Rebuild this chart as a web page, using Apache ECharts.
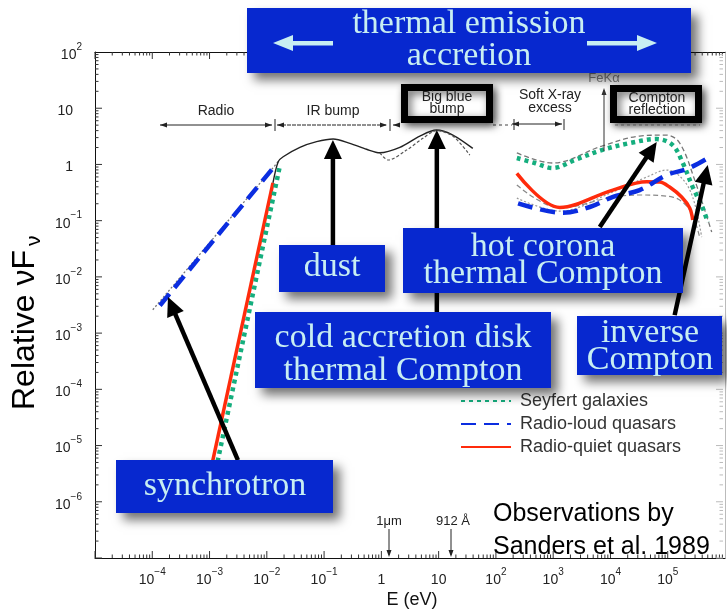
<!DOCTYPE html>
<html><head><meta charset="utf-8">
<script src="https://cdn.jsdelivr.net/npm/echarts@6/dist/echarts.min.js"></script>
<style>html,body{margin:0;padding:0;background:#fff}#c{width:727px;height:611px}</style>
</head><body><div id="c"></div>
<script>
// ---------------- data (E in eV, relative nuF_nu) ----------------
const xTickLabels = [1e-4,1e-3,1e-2,1e-1,1,10,1e2,1e3,1e4,1e5];
const yTickLabels = [1e2,10,1,1e-1,1e-2,1e-3,1e-4,1e-5,1e-6];

const sharedIR = [[0.0128,0.47],[0.0158,1.12],[0.0193,1.37],[0.0378,2.01],[0.074,2.54],[0.144,2.83],[0.282,2.37],[0.552,1.86],[0.94,1.61],[2.1,2.01],[4.7,3.2],[9.2,4.09],[17.7,3.33],[39.5,1.93]];
const sharedIRLower = [[0.94,1.61],[1.315,1.2],[2.75,1.8],[5.3,2.91],[9.2,4.0],[17.7,3.2],[35,1.47]];
const loudRadioGrey = [[1.02e-4,2.6e-3],[0.0158,1.12]];

const seyfertLow = [[1.13e-3,1.97e-6],[0.0169,0.94]];
const quietLow = [[9.2e-4,1.97e-6],[0.0128,0.47]];
const loudLow = [[1.36e-4,3.1e-3],[0.0128,0.86]];

const seyfertX = [[232,1.30],[477,1.06],[984,0.863],[2380,1.20],[7050,1.80],[21700,2.40],[64300,2.83],[122000,2.21],[183000,1.06],[273000,0.396],[408000,0.168],[499000,0.0944]];
const quietX = [[232,0.695],[1300,0.172],[11000,0.35],[43000,0.492],[72500,0.486],[108000,0.396],[175000,0.263],[242000,0.168],[273000,0.103]];
const loudX = [[244,0.203],[1490,0.138],[4350,0.175],[11100,0.266],[32400,0.35],[94900,0.647],[232000,0.853],[578000,1.41]];

const greySeyX = [[232,1.60],[984,1.06],[7050,2.12],[32400,3.2],[95500,3.33],[162000,2.40],[296000,0.528],[586000,0.0627]];
const greyLoudX = [[232,0.252],[1300,0.148],[11000,0.323],[43000,0.597],[95500,0.794],[175000,0.573],[273000,0.263],[392000,0.051]];
const greyQuietX = [[232,0.43],[1300,0.168],[11000,0.263],[32400,0.286],[122000,0.263],[242000,0.155],[361000,0.051]];

// annotation arrows: [tail, tip] in data coordinates
const arrowsData = [
  [[3.13e-3,5.5e-6],[1.88e-4,4.37e-3]],
  [[0.1426,0.0368],[0.1426,2.72]],
  [[9.3,2.37e-3],[9.3,4.09]],
  [[6500,0.0769],[64300,2.5]],
  [[132000,2.09e-3],[499000,0.975]]
];

// ---------------- chart ----------------
const GREEN='#15ae7e', BLUE='#0b2de0', RED='#ff2b0c';
const SANS='"Liberation Sans", Arial, sans-serif';
const SERIF='"Liberation Serif", "Times New Roman", serif';

const MINUS='\u2212';
function xFmt(v){ const e=Math.round(Math.log10(v)); if(e===0) return '{b|1}'; if(e===1) return '{b|10}'; return '{b|10}{s|'+(e<0?MINUS+(-e):e)+'}'; }
function yFmt(v){ const e=Math.round(Math.log10(v)); if(e===0) return '{b|1}{sp| }'; if(e===1) return '{b|10}{sp| }'; return '{b|10}{s|'+(e<0?MINUS+(-e):e)+'}'; }
const rich = {
  b:{fontSize:14, fontFamily:SANS, color:'#222', lineHeight:20, verticalAlign:'bottom'},
  s:{fontSize:10, fontFamily:SANS, color:'#222', lineHeight:12, verticalAlign:'top'},
  sp:{width:9, fontSize:10}
};

function xAx(pos, showLabel){
  return {type:'log', logBase:10, min:1e-5, max:1e6, position:pos,
    axisLine:{show:true, lineStyle:{color:'#111', width:1}},
    axisTick:{show:false},
    axisLabel:{show:showLabel, customValues:xTickLabels, formatter:xFmt, rich:rich, margin:9},
    splitLine:{show:false}, minorTick:{show:false}};
}
function yAx(pos, showLabel, col){
  return {type:'log', logBase:10, min:1e-7, max:1e2, position:pos,
    axisLine:{show:true, lineStyle:{color:col, width:1}},
    axisTick:{show:false},
    axisLabel:{show:showLabel, customValues:yTickLabels, formatter:yFmt, rich:rich, margin:13},
    splitLine:{show:false}, minorTick:{show:false}};
}

function lineSeries(name, data, color, width, type, smooth, z){
  return {type:'line', name:name, data:data, xAxisIndex:0, yAxisIndex:0, symbol:'none', showSymbol:false,
    smooth:smooth, lineStyle:{color:color, width:width, type:type, cap:'butt'}, itemStyle:{color:color}, z:z||2, silent:true};
}

const chart = echarts.init(document.getElementById('c'), null, {renderer:'canvas'});
chart.setOption({
  animation:false,
  grid:{left:95, right:2, top:52, bottom:53, containLabel:false, outerBoundsMode:'none'},
  xAxis:[xAx('bottom',true), xAx('top',false)],
  yAxis:[yAx('left',true,'#111'), yAx('right',false,'#bbb')],
  legend:{orient:'vertical', left:455, top:387, itemWidth:50, itemHeight:14, itemGap:5,
    data:['Seyfert galaxies','Radio-loud quasars','Radio-quiet quasars'],
    itemStyle:{opacity:0},
    textStyle:{fontSize:18, fontFamily:SANS, color:'#333', padding:[0,0,0,4]}, selectedMode:false},
  series:[
    lineSeries('g1', loudRadioGrey, '#777', 1.3, [2,2], false),
    lineSeries('g2', sharedIR, '#222', 1.4, 'solid', 0.3),
    lineSeries('g3', sharedIRLower, '#555', 1.2, [3,2], 0.3),
    lineSeries('g4', greySeyX, '#777', 1.3, [5,3], 0.35),
    lineSeries('g5', greyLoudX, '#999', 1.2, [2,2], 0.35),
    lineSeries('g6', greyQuietX, '#888', 1.2, [5,3], 0.35),
    lineSeries('Radio-quiet quasars', quietLow, RED, 3.5, 'solid', false, 3),
    lineSeries('Radio-quiet quasars', quietX, RED, 3.5, 'solid', 0.35, 3),
    lineSeries('Seyfert galaxies', seyfertLow, GREEN, 4.5, [4,4], false, 3),
    lineSeries('Seyfert galaxies', seyfertX, GREEN, 4.5, [4,4], 0.35, 3),
    lineSeries('Radio-loud quasars', loudLow, BLUE, 4.5, [15,8], false, 3),
    lineSeries('Radio-loud quasars', loudX, BLUE, 4.5, [15,8], 0.35, 3)
  ]
});

// ---------------- annotations ----------------
const G = [];
function arrow(p0, p1, w, headL, headW, color, z){
  const dx=p1[0]-p0[0], dy=p1[1]-p0[1], L=Math.hypot(dx,dy), ux=dx/L, uy=dy/L;
  const bx=p1[0]-ux*headL, by=p1[1]-uy*headL, nx=-uy, ny=ux;
  G.push({type:'line', silent:true, z:z, shape:{x1:p0[0],y1:p0[1],x2:bx+ux,y2:by+uy}, style:{stroke:color,lineWidth:w}});
  G.push({type:'polygon', silent:true, z:z, shape:{points:[[p1[0],p1[1]],[bx+nx*headW/2,by+ny*headW/2],[bx-nx*headW/2,by-ny*headW/2]]}, style:{fill:color}});
}
function txt(x,y,t,font,fill,align,z,va){
  G.push({type:'text', silent:true, z:z||101, x:x, y:y, style:{text:t, font:font, fill:fill, align:align||'center', verticalAlign:va||'middle', textAlign:align||'center', textVerticalAlign:va||'middle'}});
}
function blueBox(x,y,w,h,lines){
  G.push({type:'rect', silent:true, z:100, shape:{x:x,y:y,width:w,height:h},
    style:{fill:'#0728cf', shadowBlur:10, shadowOffsetX:7, shadowOffsetY:7, shadowColor:'rgba(0,0,0,0.55)'}});
  lines.forEach(l=>txt(l[0],l[1],l[2],'34px '+SERIF,'#c8eef2','center',101));
}
function blackBox(x,y,w,h){
  G.push({type:'rect', silent:true, z:60, shape:{x:x,y:y,width:w,height:h},
    style:{fill:'#fff', stroke:'#000', lineWidth:7, shadowBlur:8, shadowOffsetX:3, shadowOffsetY:3, shadowColor:'rgba(0,0,0,0.6)'}});
}
function thin(x1,y1,x2,y2,col,dash,z){
  G.push({type:'line', silent:true, z:z||55, shape:{x1:x1,y1:y1,x2:x2,y2:y2}, style:{stroke:col||'#222', lineWidth:1, lineDash:dash||null}});
}
function head(x,y,dir,col){ // small arrowhead
  const c=col||'#222'; let pts;
  if(dir==='l') pts=[[x,y],[x+7,y-2.5],[x+7,y+2.5]];
  if(dir==='r') pts=[[x,y],[x-7,y-2.5],[x-7,y+2.5]];
  if(dir==='u') pts=[[x,y],[x-2.5,y+7],[x+2.5,y+7]];
  if(dir==='d') pts=[[x,y],[x-2.5,y-7],[x+2.5,y-7]];
  G.push({type:'polygon', silent:true, z:56, shape:{points:pts}, style:{fill:c}});
}

// axis ticks (log minor + major) on all four sides
const rect = {x0:95, x1:725, y0:52, y1:558};
for (let e=-5; e<6; e++) for (let k=1; k<=9; k++) {
  const v = k*Math.pow(10,e);
  const px = chart.convertToPixel({xAxisIndex:0}, v);
  const L = k===1 ? 7 : 3.5;
  thin(px, rect.y1, px, rect.y1-L, '#333', null, 5);
  thin(px, rect.y0, px, rect.y0+L, '#333', null, 5);
}
for (let e=-7; e<2; e++) for (let k=1; k<=9; k++) {
  const v = k*Math.pow(10,e);
  const py = chart.convertToPixel({yAxisIndex:0}, v);
  const L = k===1 ? 7 : 3.5;
  thin(rect.x0, py, rect.x0+L, py, '#333', null, 5);
  thin(rect.x1-2, py, rect.x1-2-L, py, '#bbb', null, 5);
}

// big black arrows from data coordinates
arrowsData.forEach(a=>{
  const p0 = chart.convertToPixel({xAxisIndex:0,yAxisIndex:0}, a[0]);
  const p1 = chart.convertToPixel({xAxisIndex:0,yAxisIndex:0}, a[1]);
  arrow(p0,p1,4.5,19,18,'#000',50);
});

// band annotations along the top
const f14 = '14px '+SANS;
txt(216,111,'Radio',f14,'#222','center',57);
thin(160,125,272,125); head(160,125,'l'); head(272,125,'r'); thin(275,119,275,131);
txt(333,111,'IR bump',f14,'#222','center',57);
thin(277,125,387,125,'#222',[4,1]); head(277,125,'l'); head(387,125,'r'); thin(390,119,390,131);
thin(393,125,400,125); head(393,125,'l');
thin(493,125,512,125,'#444',[3,3]);
thin(512,124,562,124); head(512,124,'l'); head(562,124,'r'); thin(514,119,514,130); thin(564,119,564,130);
thin(615,125,700,125,'#999',[3,3]);
txt(550,95,'Soft X-ray',f14,'#222','center',57);
txt(550,108,'excess',f14,'#222','center',57);
txt(604,78,'FeK\u03b1','13px '+SANS,'#888','center',57);
thin(604,151,604,90,'#333'); head(604,88,'u','#333');

blackBox(404.5,87.5,85,32);
txt(447,97,'Big blue',f14,'#222','center',61);
txt(447,109,'bump',f14,'#222','center',61);
blackBox(613.5,88.5,85,31);
txt(657,98,'Compton',f14,'#222','center',61);
txt(657,110,'reflection',f14,'#222','center',61);

// wavelength markers on x axis
txt(389,521,'1\u03bcm','13px '+SANS,'#222','center',57);
thin(389,529,389,555); head(389,557,'d');
txt(453,521,'912 \u00c5','13px '+SANS,'#222','center',57);
thin(451,529,451,555); head(451,557,'d');

// blue call-out boxes
blueBox(247,8,444,65,[[469,24,'thermal emission'],[469,56,'accretion']]);
G.push({type:'polygon', silent:true, z:101, shape:{points:[[273,43],[293,35],[293,51]]}, style:{fill:'#c8eef2'}});
G.push({type:'rect', silent:true, z:101, shape:{x:292,y:41,width:41,height:4.5}, style:{fill:'#c8eef2'}});
G.push({type:'polygon', silent:true, z:101, shape:{points:[[657,43],[637,35],[637,51]]}, style:{fill:'#c8eef2'}});
G.push({type:'rect', silent:true, z:101, shape:{x:587,y:41,width:51,height:4.5}, style:{fill:'#c8eef2'}});

blueBox(279,245,106,47,[[332,267,'dust']]);
blueBox(403,228,280,65,[[543,247,'hot corona'],[543,274,'thermal Compton']]);
blueBox(255,312,296,76,[[403,338,'cold accretion disk'],[403,371,'thermal Compton']]);
blueBox(577,316,145,59,[[650,333,'inverse'],[650,360,'Compton']]);
blueBox(116,460,217,53,[[225,486,'synchrotron']]);

// credit text
txt(493,514,'Observations by','25px '+SANS,'#000','left',101);
txt(493,547,'Sanders et al. 1989','25px '+SANS,'#000','left',101);

// axis titles
txt(412,600,'E (eV)','18px '+SANS,'#111','center',57);
G.push({type:'group', silent:true, x:25, y:323, rotation:Math.PI/2, z:57, children:[
  {type:'text', z:57, x:-7, y:0, style:{text:'Relative \u03bdF', font:'32px '+SANS, fill:'#000', align:'center', verticalAlign:'middle', textAlign:'center', textVerticalAlign:'middle'}},
  {type:'text', z:57, x:77, y:9, style:{text:'\u03bd', font:'21px '+SANS, fill:'#000', align:'left', verticalAlign:'middle', textAlign:'left', textVerticalAlign:'middle'}}
]});

chart.setOption({graphic:{elements:G}});
</script>
</body></html>
